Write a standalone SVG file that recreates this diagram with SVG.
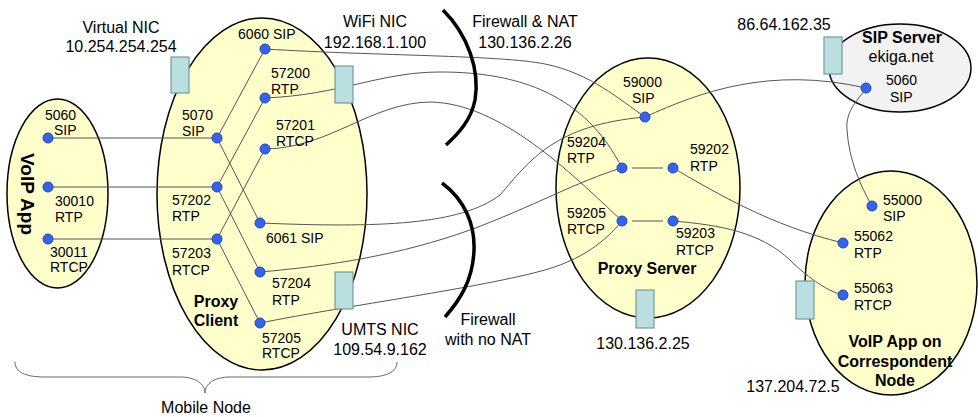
<svg xmlns="http://www.w3.org/2000/svg" width="978" height="417" viewBox="0 0 978 417">
<style>
text{font-family:"Liberation Sans",Arial,sans-serif;fill:#000}
.p{font-size:14px}
.l{font-size:16px}
.b{font-size:16px;font-weight:bold}
.cont{fill:#ffffcc;stroke:#000;stroke-width:1.5}
.srv{fill:#f2f2f2;stroke:#000;stroke-width:1.5}
.nic{fill:#b9dfe0;stroke:#7a9898;stroke-width:1.2}
.dot{fill:#3563ee;stroke:#2344b0;stroke-width:1}
.c{fill:none;stroke:#555;stroke-width:1}
.fw{fill:none;stroke:#000;stroke-width:3.5}
</style>

<g id="voip-app">
<ellipse class="cont" cx="57.5" cy="193.5" rx="50.5" ry="94.5"/>
<text class="b" style="font-size:19px" text-anchor="middle" transform="translate(21,194) rotate(90)">VoIP App</text>
</g>
<g id="proxy-client">
<ellipse class="cont" cx="262" cy="194" rx="105" ry="176"/>
<text class="b" text-anchor="middle" x="216" y="307">Proxy</text>
<text class="b" text-anchor="middle" x="216" y="326">Client</text>
</g>
<g id="proxy-server">
<ellipse class="cont" cx="648" cy="188" rx="92" ry="130"/>
<text class="b" text-anchor="middle" x="647" y="274">Proxy Server</text>
</g>
<g id="sip-server">
<ellipse class="srv" cx="900" cy="68" rx="71" ry="44"/>
<text class="b" text-anchor="middle" x="902" y="43">SIP Server</text>
<text class="l" text-anchor="middle" x="901" y="62">ekiga.net</text>
</g>
<g id="correspondent-node">
<ellipse class="cont" cx="891" cy="283" rx="86" ry="112"/>
<text class="b" text-anchor="middle" x="895" y="347">VoIP App on</text>
<text class="b" text-anchor="middle" x="895" y="367">Correspondent</text>
<text class="b" text-anchor="middle" x="895" y="386">Node</text>
</g>

<g id="connectors">
<path class="c" d="M48,138 H217"/>
<path class="c" d="M48,187 H217"/>
<path class="c" d="M48,239 H217"/>
<path class="c" d="M217,138 L265,49"/>
<path class="c" d="M217,138 L260,223"/>
<path class="c" d="M217,187 L265,98"/>
<path class="c" d="M217,187 L260,272"/>
<path class="c" d="M217,239 L265,149"/>
<path class="c" d="M217,239 L260,323"/>
<path class="c" d="M265,49 C380,56 500,55 545,64 C590,73 620,100 645,117"/>
<path class="c" d="M260,223 C380,228 460,225 500,195 C530,160 555,125 645,117"/>
<path class="c" d="M265,98 C340,95 380,72 440,72 C520,72 585,95 622,168"/>
<path class="c" d="M260,272 C330,266 400,255 470,230 C530,208 580,180 622,168"/>
<path class="c" d="M265,149 C330,148 370,103 430,102 C500,103 570,172 622,221"/>
<path class="c" d="M260,323 C350,305 480,288 545,270 C590,257 610,235 622,221"/>
<path class="c" d="M632,168 H663"/>
<path class="c" d="M632,221 H663"/>
<path class="c" d="M645,117 C700,92 770,66 866,88"/>
<path class="c" d="M866,88 C860,98 845,110 847,130 C849,160 860,185 872,206"/>
<path class="c" d="M673,168 C720,195 770,225 843,243"/>
<path class="c" d="M673,221 C720,225 760,232 790,260 C810,280 830,292 843,295"/>
</g>

<g id="nic-virtual"><rect class="nic" x="171" y="57" width="18" height="36"/>
<text class="l" text-anchor="middle" x="121" y="33">Virtual NIC</text>
<text class="l" text-anchor="middle" x="121" y="52">10.254.254.254</text></g>
<g id="nic-wifi"><rect class="nic" x="335" y="66" width="18" height="37"/>
<text class="l" text-anchor="middle" x="375" y="27">WiFi NIC</text>
<text class="l" text-anchor="middle" x="375" y="48">192.168.1.100</text></g>
<g id="nic-umts"><rect class="nic" x="335" y="272" width="18" height="37"/>
<text class="l" text-anchor="middle" x="380" y="335">UMTS NIC</text>
<text class="l" text-anchor="middle" x="380" y="355">109.54.9.162</text></g>
<g id="nic-proxy-server"><rect class="nic" x="636" y="290" width="18" height="38"/>
<text class="l" text-anchor="middle" x="643" y="349">130.136.2.25</text></g>
<g id="nic-sip-server"><rect class="nic" x="824" y="37" width="18" height="37"/>
<text class="l" text-anchor="middle" x="784" y="30">86.64.162.35</text></g>
<g id="nic-correspondent"><rect class="nic" x="796" y="281" width="18" height="38"/>
<text class="l" text-anchor="middle" x="793" y="392">137.204.72.5</text></g>

<g id="firewall-nat">
<path class="fw" d="M443,10 C468,35 480,70 475,100 C471,120 459,133 446,145"/>
<text class="l" text-anchor="middle" x="525" y="27">Firewall &amp; NAT</text>
<text class="l" text-anchor="middle" x="525" y="48">130.136.2.26</text>
</g>
<g id="firewall-no-nat">
<path class="fw" d="M442,183 C465,200 475,225 474,250 C473,280 460,300 445,317"/>
<text class="l" text-anchor="middle" x="488" y="325">Firewall</text>
<text class="l" text-anchor="middle" x="488" y="345">with no NAT</text>
</g>

<g id="mobile-node">
<path fill="none" stroke="#666" stroke-width="1" d="M15,362 C15,372 25,377 45,377 L180,377 C196,377 205,384 205,393 C205,384 214,377 230,377 L368,377 C386,377 397,372 397,362"/>
<text class="l" text-anchor="middle" x="206" y="413">Mobile Node</text>
</g>

<g id="port-5060-app"><circle class="dot" cx="48" cy="138" r="5"/><text class="p" x="45" y="120">5060</text><text class="p" x="54" y="135">SIP</text></g>
<g id="port-30010"><circle class="dot" cx="48" cy="187" r="5"/><text class="p" x="55" y="206">30010</text><text class="p" x="55" y="222">RTP</text></g>
<g id="port-30011"><circle class="dot" cx="48" cy="239" r="5"/><text class="p" x="50" y="257">30011</text><text class="p" x="50" y="272">RTCP</text></g>

<g id="port-5070"><circle class="dot" cx="217" cy="138" r="5"/><text class="p" x="182" y="120">5070</text><text class="p" x="182" y="136">SIP</text></g>
<g id="port-57202"><circle class="dot" cx="217" cy="187" r="5"/><text class="p" x="172" y="205">57202</text><text class="p" x="172" y="221">RTP</text></g>
<g id="port-57203"><circle class="dot" cx="217" cy="239" r="5"/><text class="p" x="172" y="258">57203</text><text class="p" x="172" y="275">RTCP</text></g>
<g id="port-6060"><circle class="dot" cx="265" cy="49" r="5"/><text class="p" x="238" y="39">6060 SIP</text></g>
<g id="port-57200"><circle class="dot" cx="265" cy="98" r="5"/><text class="p" x="271" y="78">57200</text><text class="p" x="271" y="94">RTP</text></g>
<g id="port-57201"><circle class="dot" cx="265" cy="149" r="5"/><text class="p" x="276" y="130">57201</text><text class="p" x="276" y="146">RTCP</text></g>
<g id="port-6061"><circle class="dot" cx="260" cy="223" r="5"/><text class="p" x="266" y="243">6061 SIP</text></g>
<g id="port-57204"><circle class="dot" cx="260" cy="272" r="5"/><text class="p" x="272" y="288">57204</text><text class="p" x="272" y="305">RTP</text></g>
<g id="port-57205"><circle class="dot" cx="260" cy="323" r="5"/><text class="p" x="262" y="343">57205</text><text class="p" x="262" y="358">RTCP</text></g>

<g id="port-59000"><circle class="dot" cx="645" cy="117" r="5"/><text class="p" x="623" y="87">59000</text><text class="p" x="632" y="103">SIP</text></g>
<g id="port-59204"><circle class="dot" cx="622" cy="168" r="5"/><text class="p" x="567" y="147">59204</text><text class="p" x="567" y="163">RTP</text></g>
<g id="port-59202"><circle class="dot" cx="673" cy="168" r="5"/><text class="p" x="690" y="154">59202</text><text class="p" x="690" y="171">RTP</text></g>
<g id="port-59205"><circle class="dot" cx="622" cy="221" r="5"/><text class="p" x="567" y="218">59205</text><text class="p" x="567" y="234">RTCP</text></g>
<g id="port-59203"><circle class="dot" cx="673" cy="221" r="5"/><text class="p" x="676" y="238">59203</text><text class="p" x="676" y="255">RTCP</text></g>

<g id="port-5060-sip"><circle class="dot" cx="866" cy="88" r="5"/><text class="p" x="886" y="85">5060</text><text class="p" x="890" y="102">SIP</text></g>

<g id="port-55000"><circle class="dot" cx="872" cy="206" r="5"/><text class="p" x="883" y="205">55000</text><text class="p" x="883" y="221">SIP</text></g>
<g id="port-55062"><circle class="dot" cx="843" cy="243" r="5"/><text class="p" x="854" y="241">55062</text><text class="p" x="854" y="258">RTP</text></g>
<g id="port-55063"><circle class="dot" cx="843" cy="295" r="5"/><text class="p" x="854" y="293">55063</text><text class="p" x="854" y="310">RTCP</text></g>
</svg>
